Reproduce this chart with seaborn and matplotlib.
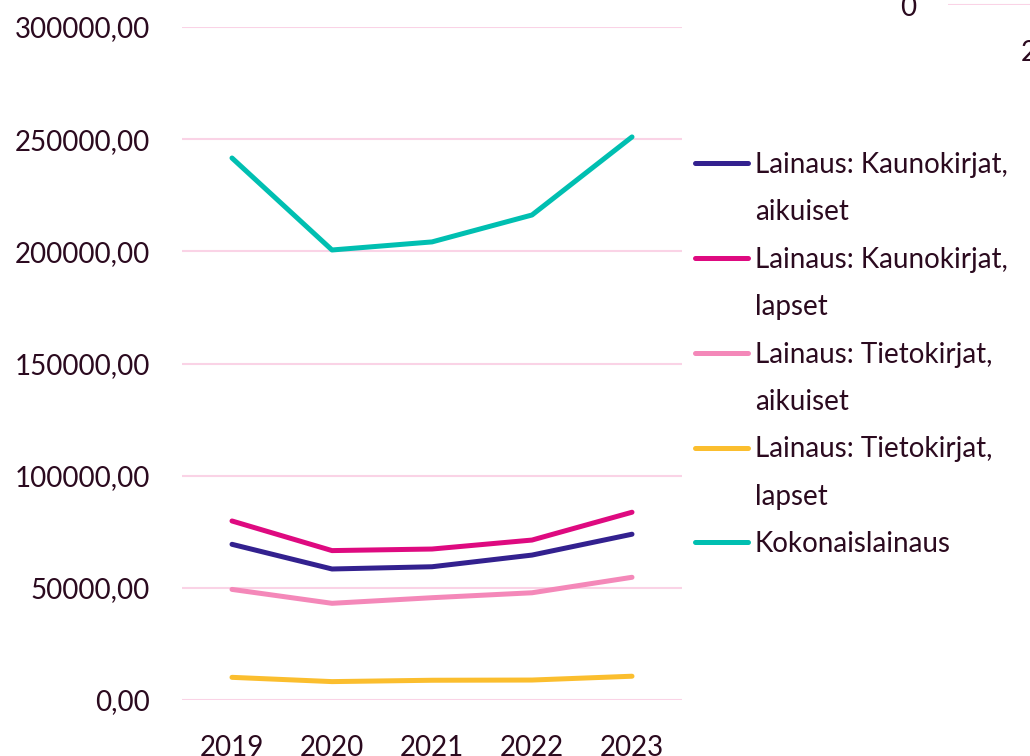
import numpy as np
import pandas as pd
import matplotlib.pyplot as plt
from matplotlib.lines import Line2D
from matplotlib.ticker import FuncFormatter
import seaborn as sns

# data
years = [2019, 2020, 2021, 2022, 2023]
kauno_aikuiset = [69400, 58400, 59400, 64600, 73900]
kauno_lapset = [79800, 66600, 67300, 71300, 83700]
tieto_aikuiset = [49300, 43100, 45600, 47800, 54700]
tieto_lapset = [10100, 8200, 8800, 8900, 10600]
kokonais = [241600, 200600, 204200, 216200, 251000]

series_names = ["Lainaus: Kaunokirjat, aikuiset", "Lainaus: Kaunokirjat, lapset",
                "Lainaus: Tietokirjat, aikuiset", "Lainaus: Tietokirjat, lapset",
                "Kokonaislainaus"]
legend_rows = [("Lainaus: Kaunokirjat,", "aikuiset"), ("Lainaus: Kaunokirjat,", "lapset"),
               ("Lainaus: Tietokirjat,", "aikuiset"), ("Lainaus: Tietokirjat,", "lapset"),
               ("Kokonaislainaus", None)]
colors = ["#33218F", "#DE0A80", "#F488B9", "#FBBE2E", "#00BFB1"]

text_col = "#2B0A1F"
grid_col = "#FAD3E6"

df = pd.DataFrame({
    "year": [str(y) for y in years] * 5,
    "value": kauno_aikuiset + kauno_lapset + tieto_aikuiset + tieto_lapset + kokonais,
    "series": sum([[n] * 5 for n in series_names], []),
})

sns.set_style("white")
plt.rcParams["font.family"] = ["Lato", "DejaVu Sans"]

fig = plt.figure(figsize=(10.3, 7.56), dpi=100)
ax = fig.add_axes([182 / 1030, 1 - 700 / 756, 500 / 1030, 673 / 756])

sns.lineplot(data=df, x="year", y="value", hue="series", palette=colors,
             linewidth=3.6, sort=False, legend=False, ax=ax)

ax.set_xlim(-0.5, 4.5)
ax.set_ylim(0, 300000)
ax.set_yticks(np.arange(0, 300001, 50000))
ax.yaxis.set_major_formatter(FuncFormatter(lambda v, p: f"{v:.2f}".replace(".", ",")))
ax.grid(axis="y", color=grid_col, linewidth=1.5)
ax.grid(axis="x", visible=False)
ax.set_axisbelow(True)
for s in ax.spines.values():
    s.set_visible(False)
ax.tick_params(axis="y", length=0, pad=23, labelsize=20, labelcolor=text_col)
ax.tick_params(axis="x", length=0, pad=25, labelsize=20, labelcolor=text_col)
ax.set_xlabel("")
ax.set_ylabel("")

# legend: two text rows per series, handle on the first row
handles, labels = [], []
for c, (l1, l2) in zip(colors, legend_rows):
    handles.append(Line2D([], [], color=c, linewidth=3.6))
    labels.append(l1)
    if l2:
        handles.append(Line2D([], [], color="none"))
        labels.append(l2)
leg = fig.legend(handles, labels, loc="upper left", bbox_to_anchor=(695 / 1030, 1 - 152 / 756),
                 frameon=False, fontsize=20, labelcolor=text_col, handlelength=1.9,
                 handletextpad=0.25, labelspacing=0.77, borderaxespad=0, borderpad=0)

# fragment of the neighbouring chart in the top right corner
ax2 = fig.add_axes([948 / 1030, 1 - 5 / 756, 500 / 1030, 0.3])
ax2.plot([0, 1], [0, 0], color="none")
ax2.set_ylim(0, 1)
ax2.set_yticks([0])
ax2.set_xlim(-1.05, 3.95)
ax2.set_xticks([0])
ax2.set_xticklabels(["2019"])
ax2.grid(axis="y", color=grid_col, linewidth=1.5)
for s in ax2.spines.values():
    s.set_visible(False)
ax2.tick_params(axis="y", length=0, pad=23, labelsize=20, labelcolor=text_col)
ax2.tick_params(axis="x", length=0, pad=25, labelsize=20, labelcolor=text_col)

fig.savefig("out.png", dpi=100)
